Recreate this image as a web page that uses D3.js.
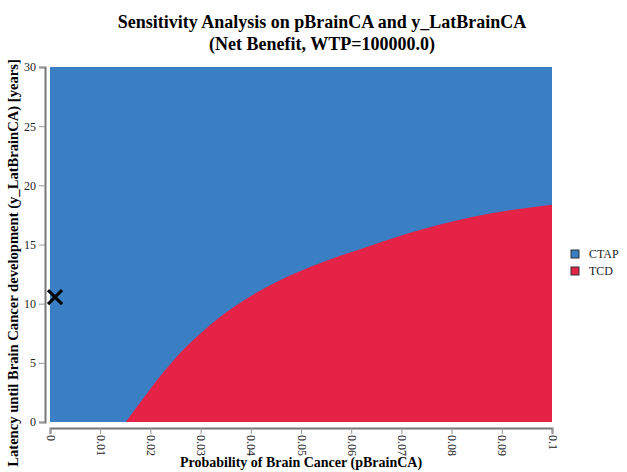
<!DOCTYPE html>
<html>
<head>
<meta charset="utf-8">
<script src="https://cdn.jsdelivr.net/npm/d3@7"></script>
<style>
  body { margin: 0; background: #fff; }
  svg text { font-family: "Liberation Serif", "DejaVu Serif", serif; }
</style>
</head>
<body>
<svg width="627" height="472"></svg>
<script>
// strategies shown in the legend
var strategies = ["CTAP", "TCD"];
var strategyColors = ["#3a7fc3", "#e42347"];

// tick values
var xTicks = [0, 0.01, 0.02, 0.03, 0.04, 0.05, 0.06, 0.07, 0.08, 0.09, 0.1];
var yTicks = [0, 5, 10, 15, 20, 25, 30];

// boundary where TCD becomes optimal (TCD below, CTAP above)
var boundaryP = [0.0151, 0.0186, 0.0219, 0.0252, 0.0286, 0.0319, 0.0385, 0.0452, 0.0518, 0.0578, 0.0618, 0.0711, 0.0843, 0.1];
var boundaryY = [0, 2.0, 3.85, 5.5, 6.95, 8.2, 10.25, 11.85, 13.1, 14.05, 14.6, 15.9, 17.35, 18.35];

// base case marker
var baseP = [0.001];
var baseY = [10.55];

function main(){
    var svg = d3.select("svg");

    var xScale = d3.scaleLinear().domain([0, 0.1]).range([50, 552]);
    var yScale = d3.scaleLinear().domain([0, 30]).range([422, 67]);

    // CTAP fills the whole region
    svg.append("rect")
        .attr("x", xScale(0))
        .attr("y", yScale(30))
        .attr("width", xScale(0.1) - xScale(0))
        .attr("height", yScale(0) - yScale(30))
        .attr("fill", strategyColors[0]);

    // TCD region under the boundary
    var pts = boundaryP.map(function(p, i){ return [p, boundaryY[i]]; });
    var area = d3.area()
        .x(function(d){ return xScale(d[0]); })
        .y0(yScale(0))
        .y1(function(d){ return yScale(d[1]); })
        .curve(d3.curveMonotoneX);
    svg.append("path")
        .datum(pts)
        .attr("d", area)
        .attr("fill", strategyColors[1]);

    // Axes, offset from the plot
    var xAxis = svg.append("g")
        .attr("transform", "translate(0,428)")
        .call(d3.axisBottom(xScale).tickValues(xTicks).tickSize(6).tickPadding(4)
            .tickFormat(function(d){ return d3.format("~g")(d); }));
    xAxis.selectAll("text")
        .attr("transform", "rotate(90)")
        .attr("x", 7)
        .attr("y", 0)
        .attr("dy", "0.32em")
        .style("text-anchor", "start");

    var yAxis = svg.append("g")
        .attr("transform", "translate(45,0)")
        .call(d3.axisLeft(yScale).tickValues(yTicks).tickSize(6).tickPadding(3));

    svg.selectAll(".domain").attr("stroke", "#777").attr("stroke-width", 2);
    svg.selectAll(".tick line").attr("stroke", "#999").attr("stroke-width", 1);
    xAxis.attr("font-family", "Liberation Serif").attr("font-size", 12);
    yAxis.attr("font-family", "Liberation Serif").attr("font-size", 12);
    svg.selectAll(".tick text").attr("fill", "#222");

    // base case "X"
    svg.append("g")
        .selectAll("path")
        .data(baseP.map(function(p, i){ return [p, baseY[i]]; }))
        .enter().append("path")
        .attr("transform", function(d){ return "translate(" + xScale(d[0]) + "," + yScale(d[1]) + ")"; })
        .attr("d", "M-7,-7L7,7M-7,7L7,-7")
        .attr("stroke", "#000")
        .attr("stroke-width", 3)
        .attr("fill", "none");

    // Title
    var title = svg.append("text")
        .attr("text-anchor", "middle")
        .attr("font-weight", "bold")
        .attr("font-size", "18px");
    title.append("tspan").attr("x", 322).attr("y", 28).text("Sensitivity Analysis on pBrainCA and y_LatBrainCA");
    title.append("tspan").attr("x", 322).attr("y", 50).text("(Net Benefit, WTP=100000.0)");

    // Axis titles
    svg.append("text")
        .attr("x", 301)
        .attr("y", 467)
        .attr("text-anchor", "middle")
        .attr("font-weight", "bold")
        .attr("font-size", "14px")
        .text("Probability of Brain Cancer (pBrainCA)");

    svg.append("text")
        .attr("transform", "translate(18,263) rotate(-90)")
        .attr("text-anchor", "middle")
        .attr("font-weight", "bold")
        .attr("font-size", "14.6px")
        .text("Latency until Brain Cancer development (y_LatBrainCA) [years]");

    // Legend
    var legend = svg.append("g").attr("transform", "translate(571,250)");
    var items = legend.selectAll("g")
        .data(strategies)
        .enter().append("g")
        .attr("transform", function(d, i){ return "translate(0," + (i * 17) + ")"; });
    items.append("rect")
        .attr("width", 8)
        .attr("height", 8)
        .attr("fill", function(d, i){ return strategyColors[i]; })
        .attr("stroke", "#333")
        .attr("stroke-width", 1);
    items.append("text")
        .attr("x", 18)
        .attr("y", 8)
        .attr("font-size", "12px")
        .attr("fill", "#222")
        .text(function(d){ return d; });
}
main();
</script>
</body>
</html>
